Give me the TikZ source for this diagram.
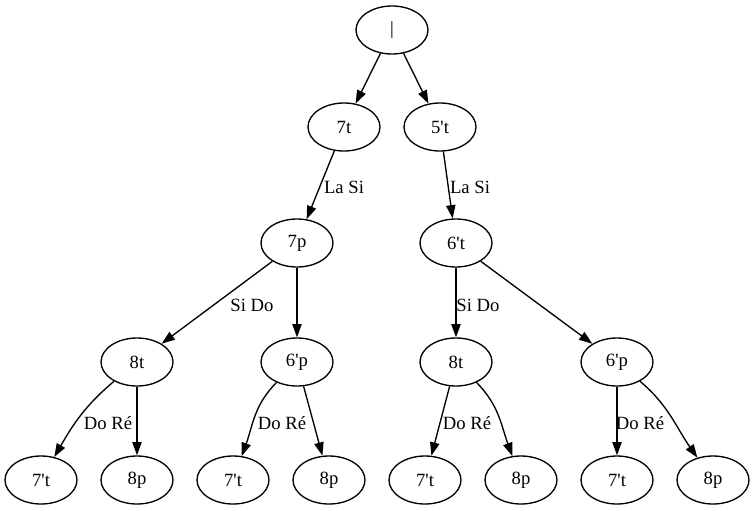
\documentclass[tikz,border=0pt]{standalone}
\usepackage{fontspec}
\setmainfont{Liberation Serif}
\usetikzlibrary{arrows.meta,shapes.geometric}
\newcommand\qq{\textquotesingle}
\begin{document}
\begin{tikzpicture}[x=0.75pt,y=-0.75pt,
  every node/.style={font=\fontsize{14}{16}\selectfont},
  gv/.style={draw,ellipse,line width=1pt,minimum width=54pt,minimum height=36pt,inner sep=0pt},
  lbl/.style={inner sep=0pt},
  arr/.style={line width=1pt,-{Triangle[length=10pt,width=7pt]}}]
\useasboundingbox (0,0) rectangle (755,510);
% nodes
\node[gv] (r) at (392,30) {|};
\node[gv] (a) at (344,127) {7t};
\node[gv] (b) at (440,127) {5\qq t};
\node[gv] (c) at (297,243) {7p};
\node[gv] (d) at (456,243) {6\qq t};
\node[gv] (e) at (137,362) {8t};
\node[gv] (f) at (297,362) {6\qq p};
\node[gv] (g) at (456,362) {8t};
\node[gv] (h) at (617,362) {6\qq p};
\node[gv] (l1) at (41,480) {7\qq t};
\node[gv] (l2) at (137,480) {8p};
\node[gv] (l3) at (233,480) {7\qq t};
\node[gv] (l4) at (329,480) {8p};
\node[gv] (l5) at (425,480) {7\qq t};
\node[gv] (l6) at (521,480) {8p};
\node[gv] (l7) at (617,480) {7\qq t};
\node[gv] (l8) at (713,480) {8p};
% edges
\draw[arr] (r) -- (a);
\draw[arr] (r) -- (b);
\draw[arr] (a) -- (c);
\draw[arr] (b) -- (d);
\draw[arr] (c) -- (e);
\draw[arr] (c) -- (f);
\draw[arr] (d) -- (g);
\draw[arr] (d) -- (h);
\draw[arr] (e) to[out=220,in=60] (l1);
\draw[arr] (e) -- (l2);
\draw[arr] (f) to[out=225,in=70] (l3);
\draw[arr] (f) -- (l4);
\draw[arr] (g) -- (l5);
\draw[arr] (g) to[out=-45,in=110] (l6);
\draw[arr] (h) -- (l7);
\draw[arr] (h) to[out=-40,in=125] (l8);
% edge labels
\node[lbl] (t1) at (344,187) {La Si};
\node[lbl] (t2) at (470,187) {La Si};
\node[lbl] (t3) at (252,305) {Si Do};
\node[lbl] (t4) at (478,305) {Si Do};
\node[lbl] (t5) at (108,423) {Do Ré};
\node[lbl] (t6) at (282,423) {Do Ré};
\node[lbl] (t7) at (467,423) {Do Ré};
\node[lbl] (t8) at (640,423) {Do Ré};
\end{tikzpicture}
\end{document}
